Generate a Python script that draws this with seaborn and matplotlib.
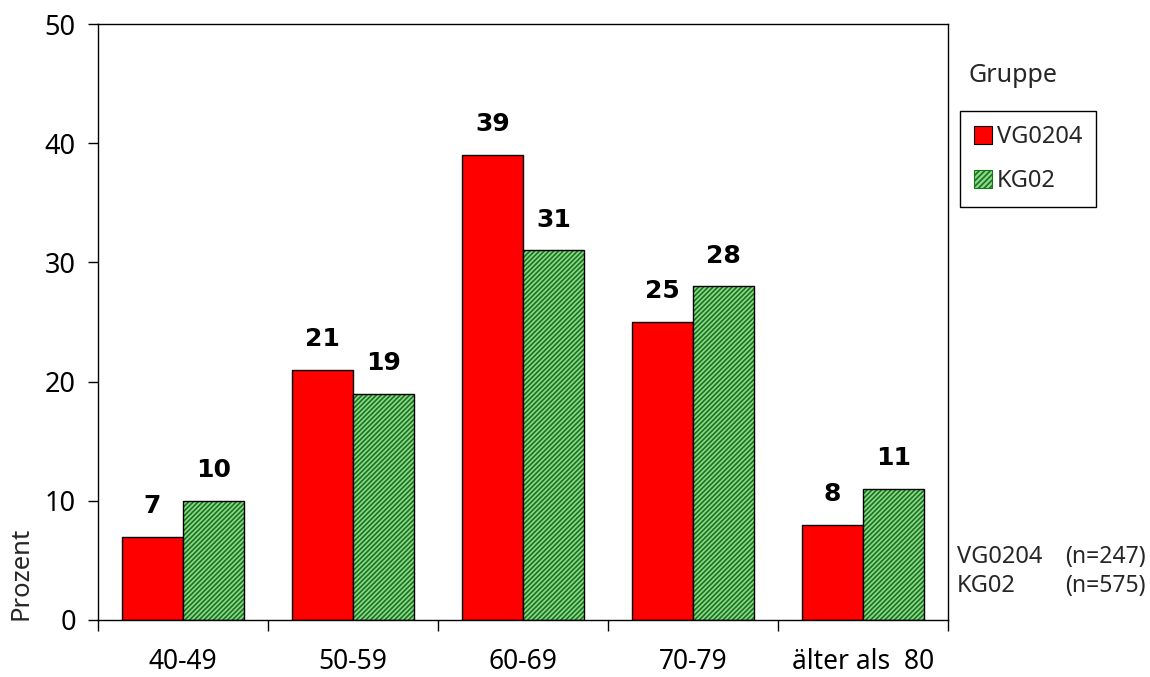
import matplotlib
matplotlib.use("Agg")
import matplotlib.pyplot as plt
from matplotlib.patches import Patch, Rectangle
import pandas as pd
import seaborn as sns

# Altersverteilung der beiden Gruppen in Prozent
age_groups = ["40-49", "50-59", "60-69", "70-79", "älter als  80"]
vg0204 = [7, 21, 39, 25, 8]
kg02 = [10, 19, 31, 28, 11]
groups = ["VG0204", "KG02"]
group_n = [247, 575]
y_ticks = [0, 10, 20, 30, 40, 50]

red = "#ff0000"
green_face = "#8fd68f"
green_hatch = "#17761a"

sns.set_theme(style="white")
plt.rcParams["font.family"] = ["Noto Sans", "DejaVu Sans"]
plt.rcParams["hatch.linewidth"] = 1.2

df = pd.DataFrame({
    "Alter": age_groups * 2,
    "Prozent": vg0204 + kg02,
    "Gruppe": [groups[0]] * len(age_groups) + [groups[1]] * len(age_groups),
})

fig = plt.figure(figsize=(11.5, 6.77), dpi=100)
ax = fig.add_axes([0.0852, 0.0842, 0.7391, 0.8803])

sns.barplot(data=df, x="Alter", y="Prozent", hue="Gruppe", order=age_groups,
            hue_order=groups, palette={groups[0]: red, groups[1]: green_face},
            width=0.72, edgecolor="black", linewidth=1.0, saturation=1,
            legend=False, ax=ax)

# Schraffur der Kontrollgruppe
for bar in ax.containers[1]:
    bar.set_hatch("///////")
    if hasattr(bar, "set_hatchcolor"):
        bar.set_hatchcolor(green_hatch)
    else:
        bar.set_edgecolor(green_hatch)
        bar.set_linewidth(0)
        ax.add_patch(Rectangle(bar.get_xy(), bar.get_width(), bar.get_height(),
                               facecolor="none", edgecolor="black", lw=1.0,
                               zorder=bar.get_zorder() + 0.1))

# Werte über den Balken
for cont in ax.containers:
    for bar in cont:
        ax.annotate(f"{bar.get_height():.0f}",
                    (bar.get_x() + bar.get_width() / 2, bar.get_height()),
                    xytext=(0, 13.5), textcoords="offset points",
                    ha="center", va="bottom", fontsize=18, fontweight="bold",
                    family="DejaVu Sans", color="black")

ax.set_xlim(-0.5, len(age_groups) - 0.5)
ax.set_ylim(0, 50)
ax.set_yticks(y_ticks)
ax.set_xlabel("")
ax.set_ylabel("")
ax.set_xticks(range(len(age_groups)))
ax.set_xticklabels(age_groups)
ax.set_xticks([i - 0.5 for i in range(len(age_groups) + 1)], minor=True)
ax.tick_params(axis="x", which="major", length=0, pad=20, labelsize=19,
               colors="black")
ax.tick_params(axis="x", which="minor", length=8, width=1, color="black",
               direction="out", bottom=True)
ax.tick_params(axis="y", which="major", length=7, width=1, color="black",
               direction="out", left=True, labelsize=19.5, pad=9,
               labelcolor="black")
for side in ["left", "right", "top", "bottom"]:
    ax.spines[side].set_visible(True)
    ax.spines[side].set_color("black")
    ax.spines[side].set_linewidth(1.0)

fig.text(0.007, 0.0842, "Prozent", rotation=90, ha="left", va="bottom",
         fontsize=18.5)

# Legende
fig.text(0.842, 0.888, "Gruppe", ha="left", va="center", fontsize=18)
handles = [Patch(facecolor=red, edgecolor="black", linewidth=0.8),
           Patch(facecolor=green_face, edgecolor=green_hatch, hatch="//////",
                 linewidth=0.8)]
leg = fig.legend(handles, groups, loc="upper left",
                 bbox_to_anchor=(0.835, 0.836), frameon=True, fancybox=False,
                 edgecolor="black", framealpha=1, fontsize=17,
                 handlelength=0.75, handleheight=0.75, handletextpad=0.2,
                 labelspacing=0.85, borderpad=0.6, borderaxespad=0)
leg.get_frame().set_linewidth(1.0)

# Stichprobengrößen
fig.text(0.832, 0.177, groups[0], ha="left", va="center", fontsize=17)
fig.text(0.926, 0.177, f"(n={group_n[0]})", ha="left", va="center", fontsize=16.5)
fig.text(0.832, 0.134, groups[1], ha="left", va="center", fontsize=17)
fig.text(0.926, 0.134, f"(n={group_n[1]})", ha="left", va="center", fontsize=16.5)

fig.savefig("out.png", dpi=100, facecolor="white")
